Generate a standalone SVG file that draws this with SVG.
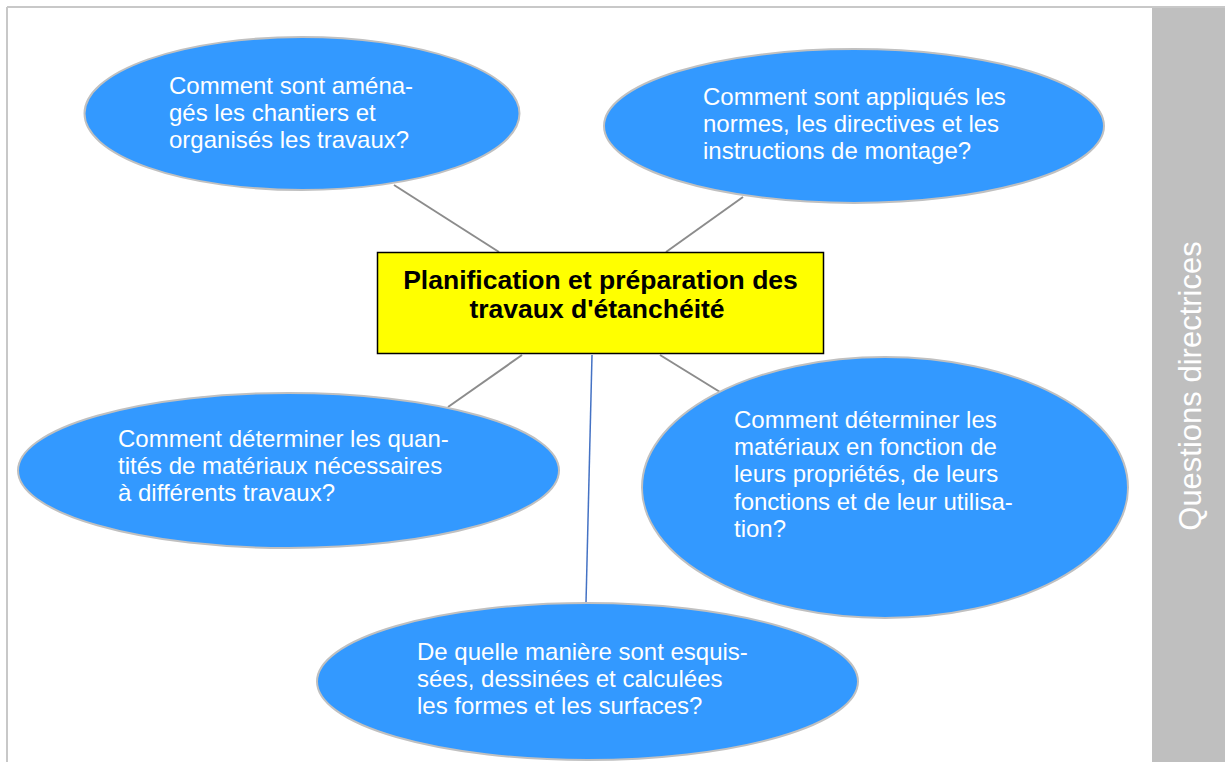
<svg xmlns="http://www.w3.org/2000/svg" width="1225" height="762" viewBox="0 0 1225 762">
<style>
.q{fill:#3399FF;stroke:#C0C0C0;stroke-width:2}
.qt{font-family:"Liberation Sans",Arial,sans-serif;font-size:24px;fill:#FFFFFF}
.con{stroke:#8C8C8C;stroke-width:2;fill:none}
.con2{stroke:#4472C4;stroke-width:1.5;fill:none}
.tt{font-family:"Liberation Sans",Arial,sans-serif;font-size:26.5px;font-weight:bold;fill:#000000}
</style>
<rect x="0" y="0" width="1225" height="762" fill="#FFFFFF"/>
<g id="frame">
<rect x="1152" y="8" width="73" height="754" fill="#BFBFBF"/>
<line x1="7" y1="7" x2="1225" y2="7" stroke="#C8C8C8" stroke-width="2"/>
<line x1="7" y1="7" x2="7" y2="762" stroke="#C8C8C8" stroke-width="2"/>
<text x="1201" y="386" transform="rotate(-90 1201 386)" text-anchor="middle" font-family="'Liberation Sans',Arial,sans-serif" font-size="31" fill="#FFFFFF">Questions directrices</text>
</g>
<g id="connectors">
<line class="con" x1="394" y1="185" x2="499" y2="252"/>
<line class="con" x1="743" y1="197" x2="666" y2="252"/>
<line class="con" x1="522" y1="355" x2="448" y2="407"/>
<line class="con" x1="660" y1="355" x2="720" y2="392"/>
<line class="con2" x1="592" y1="355" x2="586" y2="603"/>
</g>
<g id="center">
<rect x="377.5" y="252.5" width="446" height="101" fill="#FFFF00" stroke="#000000" stroke-width="1.5"/>
<text class="tt" x="600.5" y="289" text-anchor="middle">Planification et préparation des</text>
<text class="tt" x="597" y="318" text-anchor="middle">travaux d'étanchéité</text>
</g>
<g id="q1">
<ellipse class="q" cx="302" cy="113.5" rx="217.5" ry="76.5"/>
<text class="qt" x="169" y="94">Comment sont aména-</text>
<text class="qt" x="169" y="121">gés les chantiers et</text>
<text class="qt" x="169" y="148">organisés les travaux?</text>
</g>
<g id="q2">
<ellipse class="q" cx="854" cy="126" rx="250" ry="77"/>
<text class="qt" x="703" y="105">Comment sont appliqués les</text>
<text class="qt" x="703" y="132">normes, les directives et les</text>
<text class="qt" x="703" y="159">instructions de montage?</text>
</g>
<g id="q3">
<ellipse class="q" cx="288.5" cy="470.5" rx="270.5" ry="77.5"/>
<text class="qt" x="118" y="447">Comment déterminer les quan-</text>
<text class="qt" x="118" y="474">tités de matériaux nécessaires</text>
<text class="qt" x="118" y="501">à différents travaux?</text>
</g>
<g id="q4">
<ellipse class="q" cx="885" cy="487.5" rx="243" ry="130.5"/>
<text class="qt" x="734" y="428">Comment déterminer les</text>
<text class="qt" x="734" y="455">matériaux en fonction de</text>
<text class="qt" x="734" y="482">leurs propriétés, de leurs</text>
<text class="qt" x="734" y="510">fonctions et de leur utilisa-</text>
<text class="qt" x="734" y="537">tion?</text>
</g>
<g id="q5">
<ellipse class="q" cx="587.5" cy="681.5" rx="270.5" ry="78.5"/>
<text class="qt" x="417" y="660">De quelle manière sont esquis-</text>
<text class="qt" x="417" y="687">sées, dessinées et calculées</text>
<text class="qt" x="417" y="714">les formes et les surfaces?</text>
</g>
</svg>
